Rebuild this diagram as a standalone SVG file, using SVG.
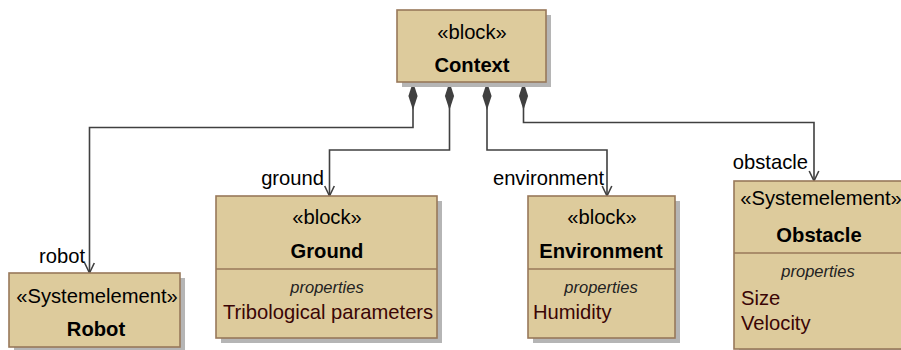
<svg xmlns="http://www.w3.org/2000/svg" width="901" height="350" viewBox="0 0 901 350">
  <style>
    .shadow { fill: #b5b5b5; }
    .box { fill: #ddcb9c; stroke: #98785a; stroke-width: 1.6; }
    .div { stroke: #98785a; stroke-width: 1.6; }
    text { font-family: "Liberation Sans", Arial, sans-serif; font-size: 20.2px; fill: #000; }
    .c { text-anchor: middle; }
    .b { font-weight: bold; }
    .prop { font-style: italic; font-size: 16.5px; fill: #222; text-anchor: middle; }
    .val { fill: #3a0505; }
    .role { text-anchor: end; }
    .conn { fill: none; stroke: #404040; stroke-width: 1.6; marker-start: url(#diamond); marker-end: url(#open); }
  </style>
  <defs>
    <marker id="diamond" markerUnits="userSpaceOnUse" markerWidth="30" markerHeight="12" viewBox="-1 -6 30 12" refX="0" refY="0" orient="auto">
      <path d="M0,0 L14,-4.6 L28,0 L14,4.6 Z" fill="#404040"/>
    </marker>
    <marker id="open" markerUnits="userSpaceOnUse" markerWidth="14" markerHeight="14" viewBox="-12 -7 14 14" refX="0" refY="0" orient="auto">
      <path d="M-10,-4.8 L0,0 L-10,4.8" fill="none" stroke="#404040" stroke-width="1.6"/>
    </marker>
  </defs>

  <g id="connectors">
    <path class="conn" d="M413,82 V127.5 H89.5 V273"/>
    <path class="conn" d="M449.5,82 V150 H329.5 V196"/>
    <path class="conn" d="M487,82 V150 H607 V196"/>
    <path class="conn" d="M523.5,82 V122.5 H814 V181"/>
    <text class="role" x="85" y="263">robot</text>
    <text class="role" x="324" y="185">ground</text>
    <text class="role" x="604" y="185">environment</text>
    <text class="role" x="808" y="169">obstacle</text>
  </g>

  <g id="context">
    <rect class="shadow" x="402" y="15" width="149" height="72"/>
    <rect class="box" x="397" y="10" width="149" height="72"/>
    <text class="c" x="472" y="39">«block»</text>
    <text class="c b" x="472" y="72">Context</text>
  </g>

  <g id="robot">
    <rect class="shadow" x="14" y="278" width="171" height="74"/>
    <rect class="box" x="9" y="273" width="171" height="74"/>
    <text class="c" x="97" y="303">«Systemelement»</text>
    <text class="c b" x="96" y="336">Robot</text>
  </g>

  <g id="ground">
    <rect class="shadow" x="221" y="201" width="221" height="142"/>
    <rect class="box" x="216" y="196" width="221" height="142"/>
    <line class="div" x1="216" y1="269" x2="437" y2="269"/>
    <text class="c" x="327" y="224">«block»</text>
    <text class="c b" x="327" y="258">Ground</text>
    <text class="prop" x="327" y="293">properties</text>
    <text class="val" x="223" y="319">Tribological parameters</text>
  </g>

  <g id="environment">
    <rect class="shadow" x="533" y="201" width="147" height="142"/>
    <rect class="box" x="528" y="196" width="147" height="142"/>
    <line class="div" x1="528" y1="269" x2="675" y2="269"/>
    <text class="c" x="602" y="224">«block»</text>
    <text class="c b" x="601" y="258">Environment</text>
    <text class="prop" x="601" y="293">properties</text>
    <text class="val" x="533" y="319">Humidity</text>
  </g>

  <g id="obstacle">
    <rect class="shadow" x="739" y="186" width="170" height="168"/>
    <rect class="box" x="734" y="181" width="170" height="168"/>
    <line class="div" x1="734" y1="253" x2="904" y2="253"/>
    <text class="c" x="821" y="205">«Systemelement»</text>
    <text class="c b" x="819" y="242">Obstacle</text>
    <text class="prop" x="818" y="277">properties</text>
    <text class="val" x="741" y="305">Size</text>
    <text class="val" x="741" y="330">Velocity</text>
  </g>
</svg>
